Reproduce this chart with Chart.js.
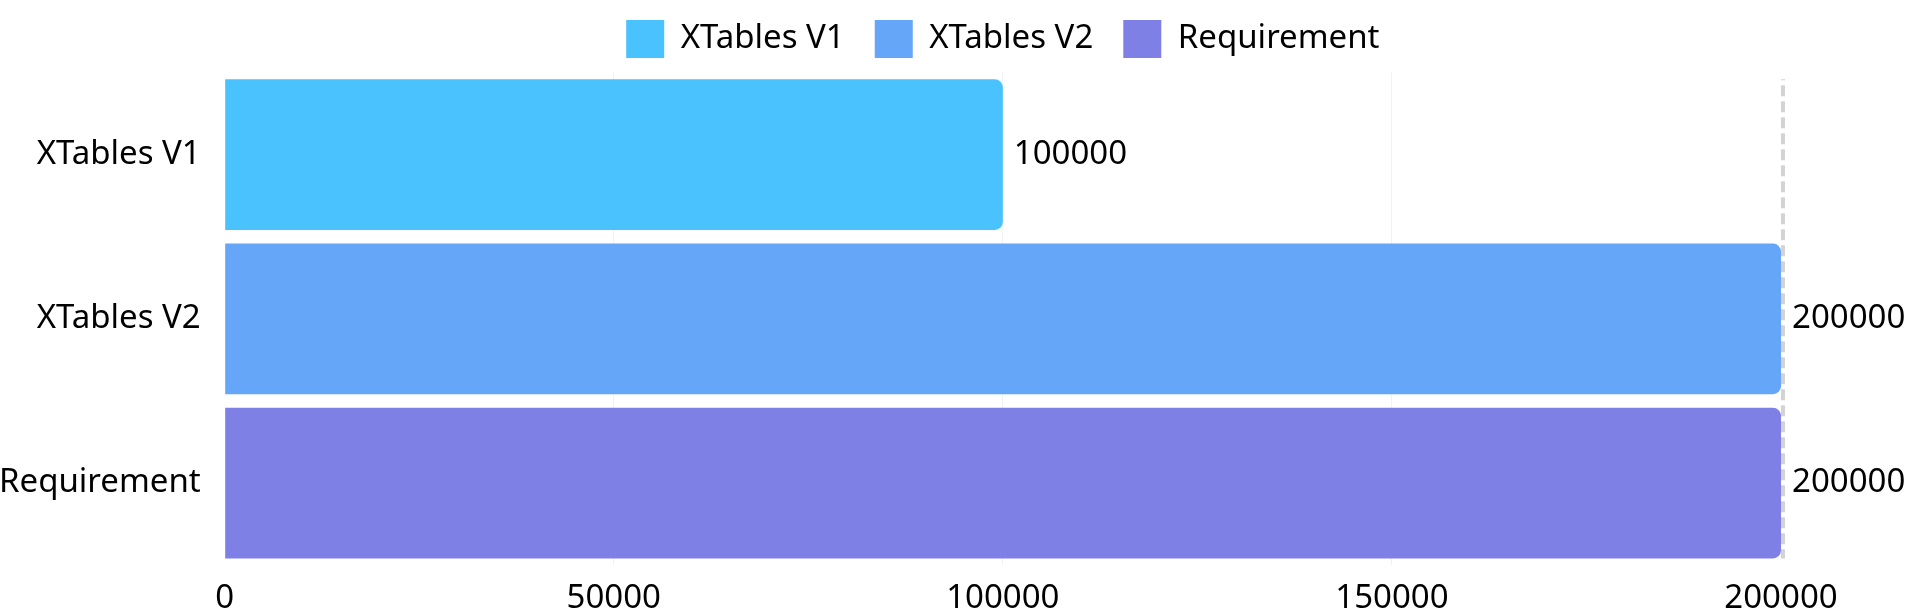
<!DOCTYPE html>
<html>
<head>
<meta charset="utf-8">
<script src="https://cdn.jsdelivr.net/npm/chart.js@4/dist/chart.umd.min.js"></script>
<style>
  html, body { margin: 0; padding: 0; background: #ffffff; }
  #wrap { width: 1920px; height: 609px; }
</style>
</head>
<body>
<div id="wrap"><canvas id="myChart"></canvas></div>
<script>
"use strict";

// chart data
var categories = ['XTables V1', 'XTables V2', 'Requirement'];
var v1_values = [100000, null, null];
var v2_values = [null, 200000, null];
var requirement_values = [null, null, 200000];
var requirement_line = 200000;
var x_ticks = [0, 50000, 100000, 150000, 200000];

var colors = ['#49C2FE', '#65A6F9', '#7F80E6'];
var font_family = '"Noto Sans", "Open Sans", sans-serif';
var font_size = 33;

// Writes the value on the right of every bar
var valueLabels = {
    id: 'valueLabels',
    afterDatasetsDraw: function(chart) {
        var ctx = chart.ctx;
        ctx.save();
        ctx.font = font_size + 'px ' + font_family;
        ctx.fillStyle = '#000000';
        ctx.textAlign = 'left';
        ctx.textBaseline = 'middle';
        chart.data.datasets.forEach(function(ds, i) {
            var meta = chart.getDatasetMeta(i);
            meta.data.forEach(function(bar, j) {
                var v = ds.data[j];
                if (v === null || v === undefined) return;
                ctx.fillText(String(v), bar.x + 11, bar.y);
            });
        });
        ctx.restore();
    }
};

// Dashed line at the requirement value, from the first bar top to the last bar bottom
var requirementLine = {
    id: 'requirementLine',
    beforeDatasetsDraw: function(chart) {
        var ctx = chart.ctx;
        var first = chart.getDatasetMeta(0).data[0];
        var last = chart.getDatasetMeta(2).data[2];
        var top = first.y - first.height / 2;
        var bottom = last.y + last.height / 2;
        var x = chart.scales.x.getPixelForValue(requirement_line) + 2;
        ctx.save();
        ctx.strokeStyle = '#d3d3d3';
        ctx.lineWidth = 4;
        ctx.setLineDash([11, 5]);
        ctx.lineDashOffset = 10;
        ctx.beginPath();
        ctx.moveTo(x, top);
        ctx.lineTo(x, bottom);
        ctx.stroke();
        ctx.restore();
    }
};

// a bit more room under the legend
var legendSpace = {
    id: 'legendSpace',
    afterInit: function(chart) {
        var legend = chart.legend;
        if (!legend) return;
        var fit = legend.fit;
        legend.fit = function() {
            fit.call(this);
            this.height += 4.5;
        };
    }
};

var ctx = document.getElementById('myChart');
var chart = new Chart(ctx, {
    type: 'bar',
    data: {
        labels: categories,
        datasets: [{
            label: 'XTables V1',
            data: v1_values,
            backgroundColor: colors[0]
        }, {
            label: 'XTables V2',
            data: v2_values,
            backgroundColor: colors[1]
        }, {
            label: 'Requirement',
            data: requirement_values,
            backgroundColor: colors[2]
        }]
    },
    options: {
        indexAxis: 'y',
        responsive: true,
        maintainAspectRatio: false,
        animation: false,
        barPercentage: 0.917,
        categoryPercentage: 1,
        borderRadius: 8,
        borderSkipped: 'start',
        layout: {
            padding: { top: -10, right: 139, bottom: -25, left: -25 }
        },
        plugins: {
            tooltip: { enabled: false },
            legend: {
                position: 'top',
                fullSize: false,
                labels: {
                    boxWidth: 38,
                    boxHeight: 38,
                    padding: 30,
                    color: '#000000',
                    font: { family: font_family, size: font_size }
                }
            }
        },
        scales: {
            x: {
                stacked: true,
                min: 0,
                max: 200000,
                afterBuildTicks: function(scale) {
                    scale.ticks = x_ticks.map(function(v) { return { value: v }; });
                },
                border: { display: false },
                grid: {
                    drawTicks: false,
                    color: function(c) {
                        if (c.tick && (c.tick.value === 0 || c.tick.value === requirement_line)) {
                            return 'rgba(0,0,0,0)';
                        }
                        return '#f2f2f2';
                    }
                },
                ticks: {
                    padding: 14,
                    color: '#000000',
                    maxRotation: 0,
                    font: { family: font_family, size: font_size },
                    callback: function(value) { return String(value); }
                }
            },
            y: {
                stacked: true,
                border: { display: false },
                grid: { display: false, drawTicks: false },
                ticks: {
                    padding: 24,
                    color: '#000000',
                    font: { family: font_family, size: font_size }
                }
            }
        }
    },
    plugins: [requirementLine, valueLabels, legendSpace]
});
</script>
</body>
</html>
